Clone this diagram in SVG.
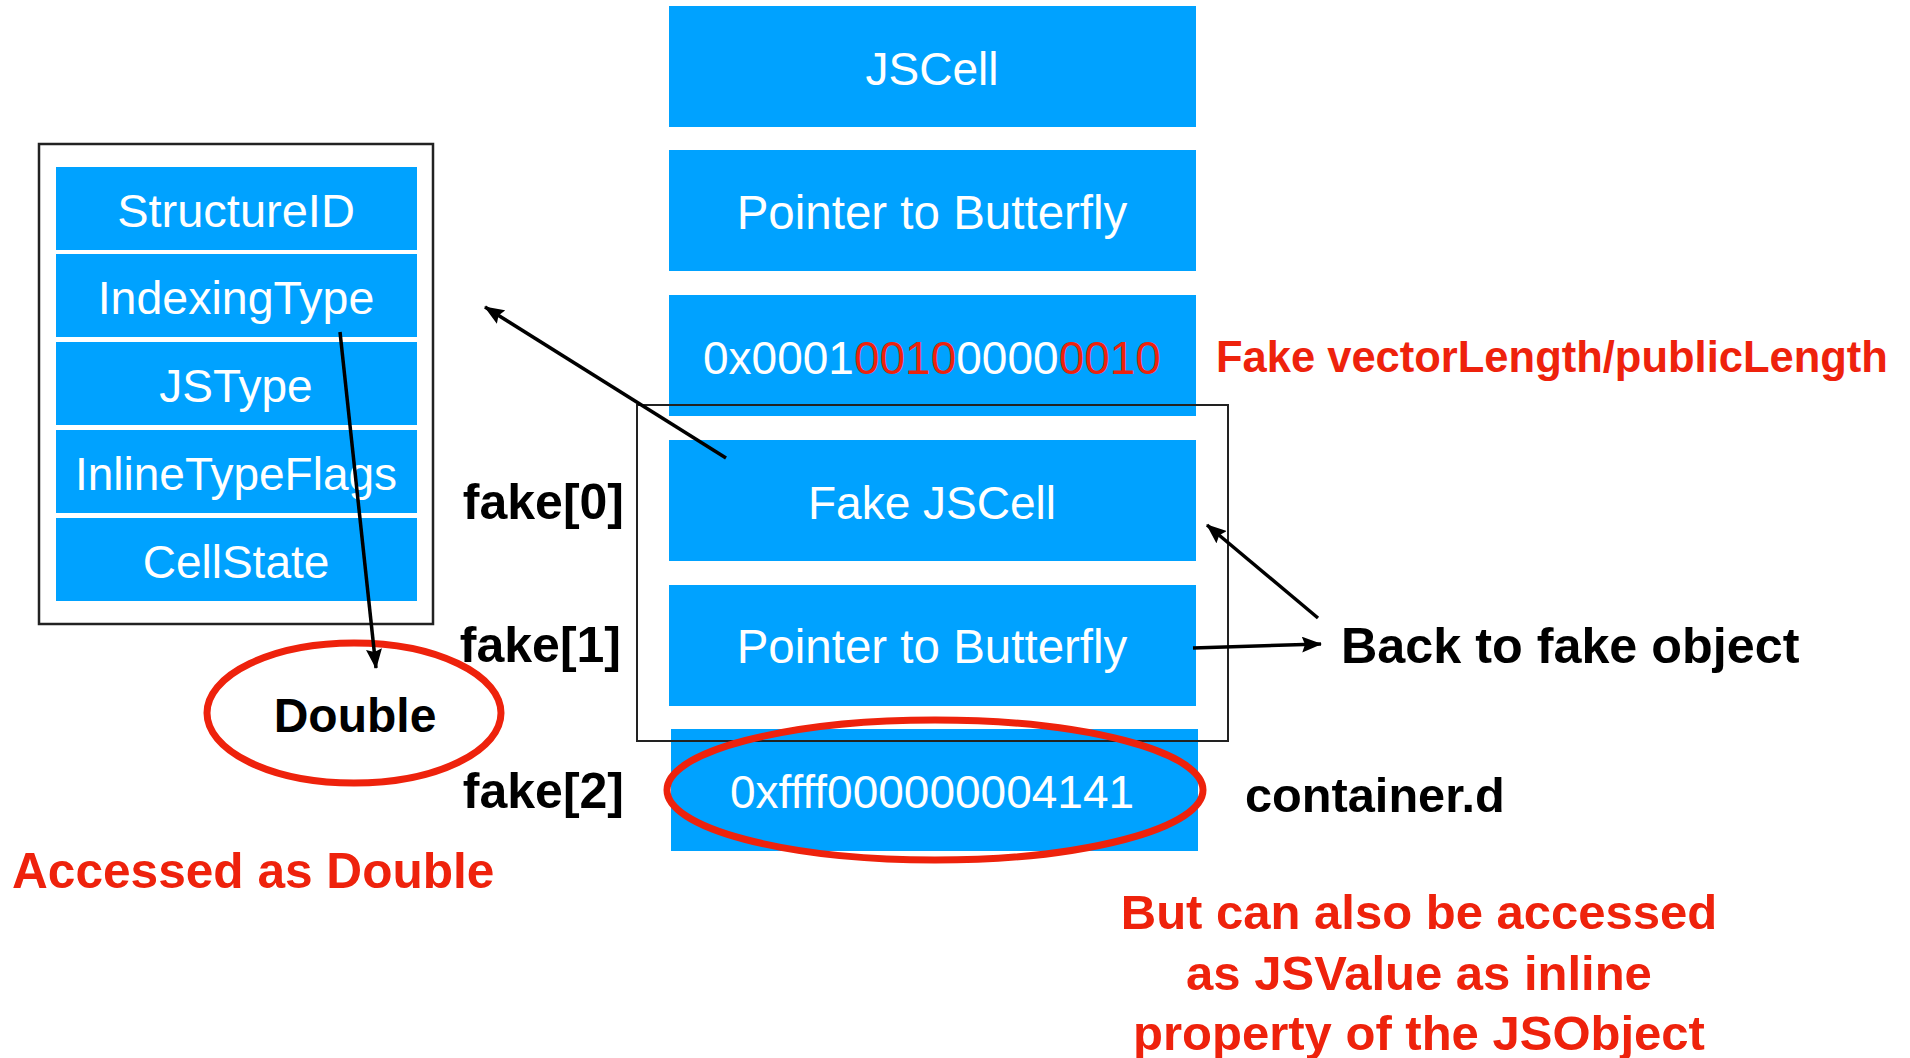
<svg xmlns="http://www.w3.org/2000/svg" width="1910" height="1058" viewBox="0 0 1910 1058">
<style>
  text { font-family: "Liberation Sans", Helvetica, Arial, sans-serif; }
  .cell { fill: #00A2FF; }
  .wt { fill: #FFFFFF; font-size: 46px; text-anchor: middle; }
  .lbl { fill: #000000; font-size: 49px; font-weight: bold; }
  .red { fill: #EE220C; font-size: 49px; font-weight: bold; }
  .rd { fill: #EE220C; }
  .conn { stroke: #000000; stroke-width: 3.5; fill: none; marker-end: url(#ah); }
  .ring { fill: none; stroke: #EE220C; stroke-width: 7; }
</style>
<defs>
  <marker id="ah" viewBox="0 0 20 16" refX="19" refY="8" markerWidth="20" markerHeight="16" markerUnits="userSpaceOnUse" orient="auto">
    <path d="M0,0 L20,8 L0,16 L3,8 z" fill="#000000"/>
  </marker>
</defs>
<rect width="1910" height="1058" fill="#FFFFFF"/>

<g id="header-box">
  <rect x="39" y="144" width="394" height="480" fill="none" stroke="#222222" stroke-width="2.5"/>
</g>
<g id="structureid"><rect class="cell" x="56" y="167" width="361" height="83"/><text class="wt" x="236" y="227" style="font-size:47px">StructureID</text></g>
<g id="indexingtype"><rect class="cell" x="56" y="254" width="361" height="83"/><text class="wt" x="236" y="314" style="font-size:46.5px">IndexingType</text></g>
<g id="jstype"><rect class="cell" x="56" y="342" width="361" height="83"/><text class="wt" x="236" y="402">JSType</text></g>
<g id="inlinetypeflags"><rect class="cell" x="56" y="430" width="361" height="83"/><text class="wt" x="236" y="490">InlineTypeFlags</text></g>
<g id="cellstate"><rect class="cell" x="56" y="518" width="361" height="83"/><text class="wt" x="236" y="578">CellState</text></g>

<g id="jscell"><rect class="cell" x="669" y="6" width="527" height="121"/><text class="wt" x="932" y="85">JSCell</text></g>
<g id="butterfly"><rect class="cell" x="669" y="150" width="527" height="121"/><text class="wt" x="932" y="229" style="font-size:47.5px">Pointer to Butterfly</text></g>
<g id="lengths"><rect class="cell" x="669" y="295" width="527" height="121"/><text class="wt" x="932" y="374">0x0001<tspan class="rd">0010</tspan>0000<tspan class="rd">0010</tspan></text></g>
<g id="fake-jscell"><rect class="cell" x="669" y="440" width="527" height="121"/><text class="wt" x="932" y="519">Fake JSCell</text></g>
<g id="fake-butterfly"><rect class="cell" x="669" y="585" width="527" height="121"/><text class="wt" x="932" y="663" style="font-size:47.5px">Pointer to Butterfly</text></g>
<g id="container-d"><rect class="cell" x="671" y="729" width="527" height="122"/><text class="wt" x="932" y="808">0xffff000000004141</text></g>

<g id="fake-object-box">
  <rect x="637" y="405" width="591" height="336" fill="none" stroke="#222222" stroke-width="2"/>
</g>

<g id="double">
  <ellipse class="ring" cx="354" cy="713" rx="147" ry="70"/>
  <text class="lbl" x="355" y="732" text-anchor="middle" style="font-size:48px">Double</text>
</g>
<g id="value-ring">
  <ellipse class="ring" cx="935" cy="790" rx="268" ry="70"/>
</g>

<g id="labels">
  <text class="lbl" x="624" y="519" text-anchor="end" style="font-size:50px">fake[0]</text>
  <text class="lbl" x="621" y="662" text-anchor="end" style="font-size:50px">fake[1]</text>
  <text class="lbl" x="624" y="808" text-anchor="end" style="font-size:50px">fake[2]</text>
  <text class="lbl" x="1341" y="663" style="font-size:50.3px">Back to fake object</text>
  <text class="lbl" x="1245" y="812" style="font-size:48.7px">container.d</text>
  <text class="red" x="1216" y="372" style="font-size:43.5px">Fake vectorLength/publicLength</text>
  <text class="red" x="12" y="888" style="font-size:49.6px">Accessed as Double</text>
  <text class="red" x="1419" y="929" text-anchor="middle">But can also be accessed</text>
  <text class="red" x="1419" y="990" text-anchor="middle">as JSValue as inline</text>
  <text class="red" x="1419" y="1050" text-anchor="middle">property of the JSObject</text>
</g>

<g id="connectors">
  <line class="conn" x1="726" y1="458" x2="485" y2="307"/>
  <line class="conn" x1="340" y1="332" x2="376" y2="668"/>
  <line class="conn" x1="1318" y1="618" x2="1207" y2="525"/>
  <line class="conn" x1="1193" y1="648" x2="1321" y2="644"/>
</g>
</svg>
